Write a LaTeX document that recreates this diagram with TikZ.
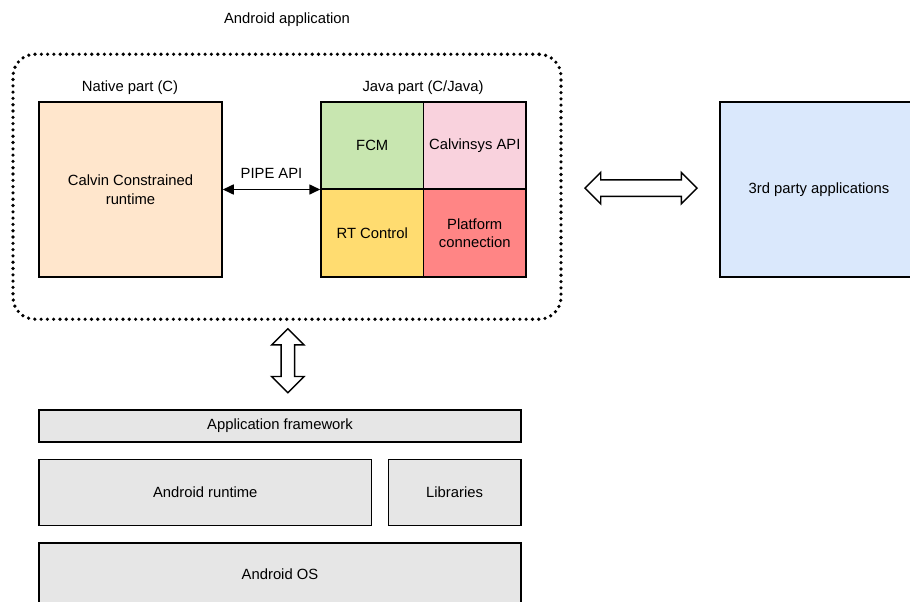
\documentclass[tikz,border=0pt]{standalone}
\usepackage{fontspec}
\setmainfont{Liberation Sans}
\usetikzlibrary{arrows.meta,shapes.arrows,calc}
\definecolor{nativefill}{HTML}{FFE6CC}
\definecolor{fcmfill}{HTML}{C8E6B0}
\definecolor{sysfill}{HTML}{F9D2DD}
\definecolor{rtfill}{HTML}{FFDC70}
\definecolor{platfill}{HTML}{FF8585}
\definecolor{thirdfill}{HTML}{DAE8FC}
\definecolor{osfill}{HTML}{E6E6E6}
\begin{document}
\begin{tikzpicture}[x=1pt,y=-1pt,font=\fontsize{14.8}{18.5}\selectfont]
      \tikzset{box/.style={draw, line width=1.5pt, inner sep=0pt, align=center},
               blockarrow/.style={draw, fill=white, line width=1.4pt, double arrow, inner xsep=0pt, inner ysep=7.5pt,
                   minimum width=30pt, minimum height=112pt, double arrow head extend=7.5pt,
                   double arrow head indent=0pt}}
      \useasboundingbox (0,0) rectangle (910,602);
%% Android application
      	\node[draw, line width=3.6pt, dash pattern=on 0pt off 6.3pt, line cap=round, rounded corners=22pt,
      	      minimum width=548pt, minimum height=265pt] (app) at (287,186.75) {};
      	\node (apptitle) at (287,19.5) {Android application};
%% Native part
      	\node[box, fill=nativefill, minimum width=183pt, minimum height=175pt] (native) at (130.5,189.5)
      	      {Calvin Constrained\\runtime};
      	\node (nativelabel) at (130,88) {Native part (C)};
%% Java part
      	\node[box, fill=fcmfill, minimum width=102.5pt, minimum height=87pt] (fcm) at (372.25,145.5) {FCM};
      	\node[box, fill=sysfill, minimum width=102.5pt, minimum height=87pt] (sys) at (474.75,145.5) {Calvinsys API};
      	\node[box, fill=rtfill, minimum width=102.5pt, minimum height=88pt] (rt) at (372.25,233) {RT Control};
      	\node[box, fill=platfill, minimum width=102.5pt, minimum height=88pt] (plat) at (474.75,233)
      	      {Platform\\connection};
      	\node (javalabel) at (423,88) {Java part (C/Java)};
%Edges
		\draw[line width=1.6pt, {Triangle[length=11pt,width=10pt]}-{Triangle[length=11pt,width=10pt]}]
		      (native.east) -- (native.east -| fcm.west) node[midway, above=7pt] {PIPE API};
%% 3rd party
      	\node[box, fill=thirdfill, minimum width=198pt, minimum height=175pt] (third) at (819,189.5)
      	      {3rd party applications};
		\node[blockarrow] (hlink) at ($(app.east)!0.5!(third.west)$) {};
%% Android stack
      	\node[box, fill=osfill, minimum width=482pt, minimum height=32pt] (framework) at (280,426)
      	      {Application framework};
      	\node[box, fill=osfill, minimum width=332.5pt, minimum height=66pt] (runtime) at (205.25,492.5)
      	      {Android runtime};
      	\node[box, fill=osfill, minimum width=132.7pt, minimum height=66pt] (libs) at (454.6,492.5) {Libraries};
      	\node[box, fill=osfill, minimum width=482pt, minimum height=62pt] (os) at (280,574) {Android OS};
		\node[blockarrow, minimum height=64pt, minimum width=31pt, double arrow head extend=9.5pt, inner ysep=6pt, rotate=90]
		      (vlink) at ($(app.south)!0.45!(framework.north) + (4,0)$) {};
	\end{tikzpicture}
\end{document}
